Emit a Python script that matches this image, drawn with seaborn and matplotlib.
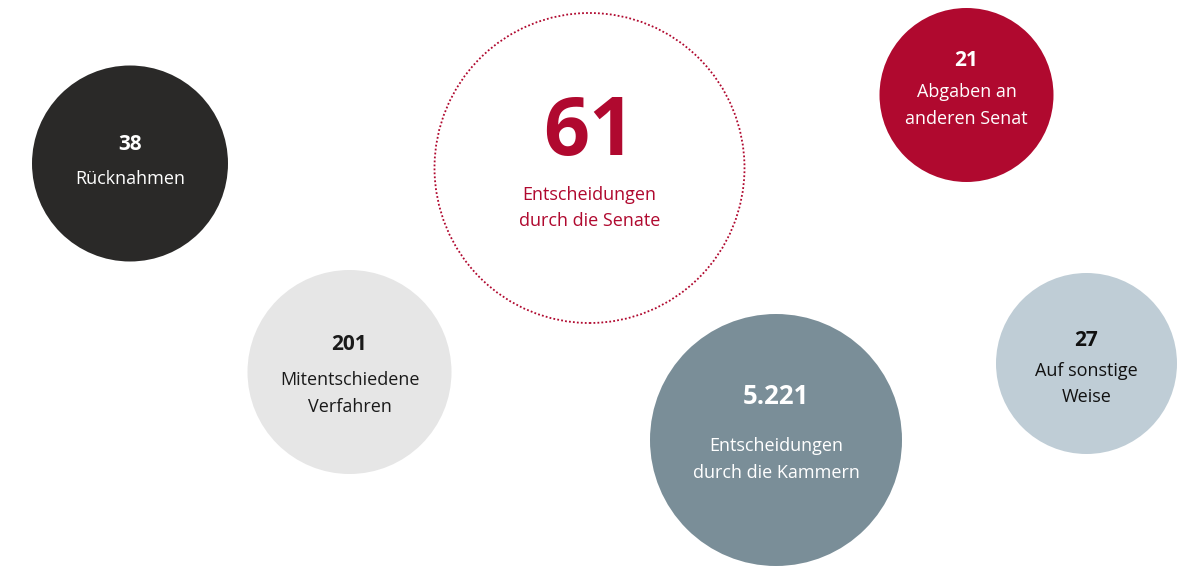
import matplotlib
matplotlib.use("Agg")
import matplotlib.pyplot as plt
import seaborn as sns
import pandas as pd

# ---- data ----
numbers = ["38", "201", "61", "5.221", "21", "27"]
labels = ["Rücknahmen", "Mitentschiedene\nVerfahren", "Entscheidungen\ndurch die Senate",
          "Entscheidungen\ndurch die Kammern", "Abgaben an\nanderen Senat", "Auf sonstige\nWeise"]
values = [38, 201, 61, 5221, 21, 27]

# ---- layout (pixel coordinates) ----
cx = [130, 349.5, 589.5, 776, 966.5, 1086.5]
cy = [163.5, 372, 168, 440, 95, 363.5]
radius = [98, 102, 155, 126, 87, 90.5]
fills = ["#2a2928", "#e6e6e6", "none", "#7a8e98", "#b0092f", "#bfcdd6"]
txt_colors = ["#ffffff", "#1a1a1a", "#b0092f", "#ffffff", "#ffffff", "#111111"]
num_y = [145, 345, 134, 397, 60, 340]
lab_y0 = [179, 380, 195, 446, 92, 371]
line_gap = 26.5
num_size = [15, 15, 58, 18.5, 15, 15]

W, H, DPI = 11.89, 5.68, 100
sns.set_theme(style="white")
plt.rcParams["font.family"] = ["Open Sans", "DejaVu Sans"]

fig = plt.figure(figsize=(W, H), dpi=DPI)
ax = fig.add_axes([0, 0, 1, 1])
ax.set_xlim(0, 1189)
ax.set_ylim(568, 0)
ax.axis("off")

df = pd.DataFrame({"x": cx, "y": cy, "value": values, "number": numbers, "label": labels})
px2pt = 72 / DPI
sizes = [(2 * r * px2pt) ** 2 for r in radius]

filled = [i for i in range(len(values)) if fills[i] != "none"]
sns.scatterplot(data=df.iloc[filled], x="x", y="y", hue="number",
                palette=[fills[i] for i in filled], s=[sizes[i] for i in filled],
                linewidth=0, legend=False, ax=ax, zorder=2)
# dotted outline circle
d = df.iloc[[2]]
ax.scatter(d["x"], d["y"], s=sizes[2], facecolors="none", edgecolors="#b0092f",
           linewidths=1.3, linestyles=[(0, (1, 1.2))], zorder=2)

for i, row in df.iterrows():
    ax.text(row["x"], num_y[i], row["number"], ha="center", va="center",
            fontsize=num_size[i], fontweight="bold", color=txt_colors[i], zorder=3)
    for k, line in enumerate(row["label"].split("\n")):
        ax.text(row["x"], lab_y0[i] + k * line_gap, line, ha="center", va="center",
                fontsize=13, color=txt_colors[i], zorder=3)

ax.set_xlim(0, 1189)
ax.set_ylim(568, 0)
fig.savefig("out.png", dpi=DPI, facecolor="white")
